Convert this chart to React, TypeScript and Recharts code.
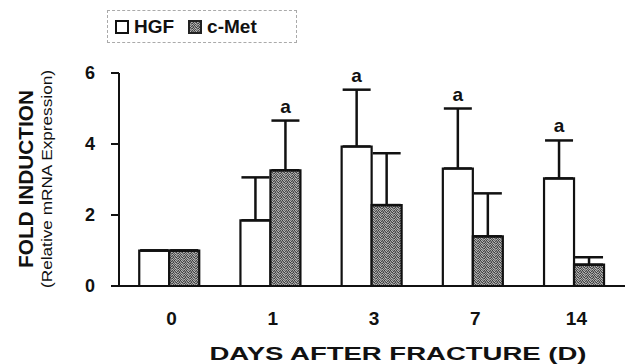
import React from "react"
import {
  BarChart,
  Bar,
  XAxis,
  YAxis,
  ErrorBar,
  LabelList,
  Label,
} from "recharts"

const days = ["0", "1", "3", "7", "14"]
const hgf = [1.0, 1.85, 3.93, 3.31, 3.03]
const hgfErr = [0, 1.21, 1.6, 1.69, 1.07]
const cmet = [1.0, 3.26, 2.28, 1.4, 0.6]
const cmetErr = [0, 1.4, 1.46, 1.21, 0.21]
const hgfSig = ["", "", "a", "a", "a"]
const cmetSig = ["", "a", "", "", ""]
const yTicks = [0, 2, 4, 6]

const FONT = "'Liberation Sans', Arial, Helvetica, sans-serif"

// stipple look of the scanned c-Met fill (6 x 5 cell)
const STIPPLE = [
  "#3a3a3a", "#b4b4b4", "#6a6a6a", "#9a9a9a", "#484848", "#a8a8a8",
  "#8c8c8c", "#505050", "#c0c0c0", "#444444", "#7c7c7c", "#5e5e5e",
  "#a0a0a0", "#6e6e6e", "#3c3c3c", "#b0b0b0", "#949494", "#404040",
  "#565656", "#bcbcbc", "#888888", "#606060", "#3e3e3e", "#aaaaaa",
  "#9e9e9e", "#4a4a4a", "#a4a4a4", "#7e7e7e", "#b8b8b8", "#525252",
]

const chartData = days.map((d, i) => ({
  day: d,
  hgf: hgf[i],
  cmet: cmet[i],
  hgfErr: [0, hgfErr[i]],
  cmetErr: [0, cmetErr[i]],
  hgfSig: hgfSig[i],
  cmetSig: cmetSig[i],
}))

function sigLabel(values: number[], errs: number[]) {
  return (props: any) => {
    const { x, y, width, height, value, index } = props
    if (!value) return null
    const perUnit = height / values[index]
    const errTop = y - errs[index] * perUnit
    return (
      <text
        x={x + width / 2}
        y={errTop - 8}
        textAnchor="middle"
        fontFamily={FONT}
        fontWeight="bold"
        fontSize={19}
        fill="#111"
      >
        {value}
      </text>
    )
  }
}

function YTick(props: any) {
  const { x, y, payload } = props
  return (
    <g>
      <line x1={x} x2={x + 8} y1={y} y2={y} stroke="#111" strokeWidth={2} />
      <text
        x={90}
        y={y + 6}
        textAnchor="middle"
        fontFamily={FONT}
        fontWeight="bold"
        fontSize={18}
        fill="#111"
      >
        {payload.value}
      </text>
    </g>
  )
}

function XTick(props: any) {
  const { x, payload } = props
  return (
    <text
      x={x + 2}
      y={325}
      textAnchor="middle"
      fontFamily={FONT}
      fontWeight="bold"
      fontSize={19}
      fill="#111"
    >
      {payload.value}
    </text>
  )
}

function LegendBox() {
  const item = { display: "flex", alignItems: "center" } as const
  const txt = { fontFamily: FONT, fontWeight: 700, fontSize: 19, color: "#111" }
  return (
    <div
      style={{
        position: "absolute",
        left: 107,
        top: 10,
        width: 190,
        height: 33,
        border: "1px dashed #aaa",
        display: "flex",
        alignItems: "center",
        paddingLeft: 7,
        boxSizing: "border-box",
      }}
    >
      <div style={item}>
        <div style={{ width: 14, height: 14, border: "2px solid #111", boxSizing: "border-box", background: "#fff" }} />
        <span style={{ ...txt, marginLeft: 5 }}>HGF</span>
      </div>
      <div style={{ ...item, marginLeft: 14 }}>
        <svg width={14} height={14}>
          <rect x={1} y={1} width={12} height={12} fill="url(#stipple)" stroke="#222" strokeWidth={2} />
        </svg>
        <span style={{ ...txt, marginLeft: 5 }}>c-Met</span>
      </div>
    </div>
  )
}

function YLabel() {
  return (
    <g fontFamily={FONT} fill="#111">
      <text
        transform="translate(33,179) rotate(-90)"
        textAnchor="middle"
        fontWeight="bold"
        fontSize={20}
        textLength={178}
        lengthAdjust="spacingAndGlyphs"
      >
        FOLD INDUCTION
      </text>
      <text
        transform="translate(52,179) rotate(-90)"
        textAnchor="middle"
        fontSize={15}
        textLength={218}
        lengthAdjust="spacingAndGlyphs"
      >
        (Relative mRNA Expression)
      </text>
    </g>
  )
}

function XLabel() {
  return (
    <text
      x={398}
      y={360}
      textAnchor="middle"
      fontFamily={FONT}
      fontWeight="bold"
      fontSize={19}
      fill="#111"
      textLength={377}
      lengthAdjust="spacingAndGlyphs"
    >
      DAYS AFTER FRACTURE (D)
    </text>
  )
}

export default function App() {
  return (
    <div style={{ position: "absolute", left: 0, top: 0, width: 625, height: 364, background: "#fff" }}>
      <BarChart
        width={625}
        height={364}
        data={chartData}
        margin={{ top: 73, right: 0, bottom: 0, left: 0 }}
        barCategoryGap="20%"
        barGap={0}
      >
        <defs>
          <pattern id="stipple" width={6} height={5} patternUnits="userSpaceOnUse">
            {STIPPLE.map((c, i) => (
              <rect key={i} x={i % 6} y={Math.floor(i / 6)} width={1} height={1} fill={c} />
            ))}
          </pattern>
        </defs>
        <XAxis
          dataKey="day"
          height={78}
          axisLine={{ stroke: "#111", strokeWidth: 2 }}
          tickLine={false}
          tick={<XTick />}
          interval={0}
        >
          <Label content={() => <XLabel />} />
        </XAxis>
        <YAxis
          width={119}
          domain={[0, 6]}
          ticks={yTicks}
          axisLine={{ stroke: "#111", strokeWidth: 2 }}
          tickLine={false}
          tick={<YTick />}
        >
          <Label content={() => <YLabel />} />
        </YAxis>
        <Bar dataKey="hgf" fill="#fff" stroke="#111" strokeWidth={2.2} isAnimationActive={false}>
          <ErrorBar dataKey="hgfErr" width={14} stroke="#111" strokeWidth={2.5} direction="y" />
          <LabelList dataKey="hgfSig" content={sigLabel(hgf, hgfErr)} />
        </Bar>
        <Bar dataKey="cmet" fill="url(#stipple)" stroke="#111" strokeWidth={2.2} isAnimationActive={false}>
          <ErrorBar dataKey="cmetErr" width={14} stroke="#111" strokeWidth={2.5} direction="y" />
          <LabelList dataKey="cmetSig" content={sigLabel(cmet, cmetErr)} />
        </Bar>
      </BarChart>
      <LegendBox />
    </div>
  )
}
